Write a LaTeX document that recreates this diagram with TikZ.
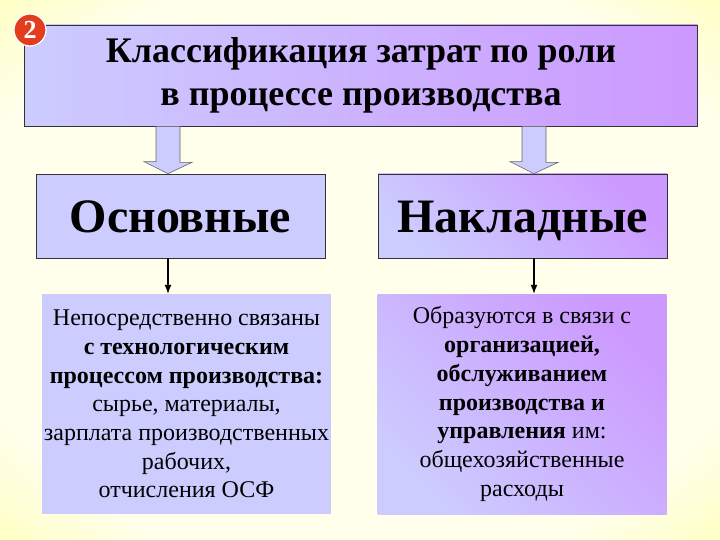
\documentclass[tikz,border=0pt]{standalone}
\usepackage{fontspec}
\setmainfont{Liberation Serif}
\usetikzlibrary{positioning,calc,arrows.meta}

\definecolor{lav}{RGB}{204,204,255}
\definecolor{lilac}{RGB}{204,153,255}
\definecolor{bgin}{RGB}{255,255,236}
\definecolor{bgout}{RGB}{255,255,128}
\definecolor{badgered}{RGB}{226,62,30}
\pgfdeclareradialshading{bgglow}{\pgfpoint{0bp}{0bp}}{color(0bp)=(bgin); color(28bp)=(bgin); color(48bp)=(bgout); color(75bp)=(bgout)}

\begin{document}
\begin{tikzpicture}[x=1pt,y=-1pt,
    box/.style={draw=black!80, line width=0.8pt, inner sep=0pt, align=center},
    head/.style={font=\bfseries\fontsize{36}{43}\selectfont},
    big/.style={font=\bfseries\fontsize{48}{50}\selectfont, text height=33pt, text depth=0pt},
    desc/.style={inner sep=0pt, align=center, minimum width=289pt, minimum height=220pt, font=\fontsize{24}{28.7}\selectfont},
    diag/.style={top color=lilac, bottom color=lav, shading angle=-45},
    blockarrow/.style={draw=black!60, line width=0.6pt, fill=lav},
    link/.style={-{Latex[length=9pt,width=7pt]}, line width=1.2pt}]
    % Background
    \useasboundingbox (0,0) rectangle (720,540);
    \path[shading=bgglow] (0,0) rectangle (720,540);

    % Title
    \node[box, head, minimum width=673pt, minimum height=101pt, left color=lav, right color=lilac] (title) at (361,75.5) {Классификация затрат по роли\\в процессе производства};
    \node[circle, fill=badgered, draw=white, line width=1.2pt, minimum size=32pt, inner sep=0pt, text=white, font=\bfseries\fontsize{26}{26}\selectfont] (badge) at (30,30) {2};

    % Two kinds
    \node[box, big, minimum width=289pt, minimum height=84pt, fill=lav] (basic) at (180.5,216) {Основные};
    \node[box, big, minimum width=289pt, minimum height=84pt, diag] (overhead) at (522.5,216) {Накладные};

    % Descriptions
    \node[desc, fill=lav] (basicdesc) at (186.5,404) {Непосредственно связаны\\
        \textbf{с технологическим}\\
        \textbf{процессом производства:}\\
        сырье, материалы,\\
        зарплата производственных\\
        рабочих,\\
        отчисления ОСФ};
    \node[desc, diag] (overheaddesc) at (522,404) {Образуются в связи с\\
        \textbf{организацией,}\\
        \textbf{обслуживанием}\\
        \textbf{производства и}\\
        \textbf{управления} им:\\
        общехозяйственные\\
        расходы};

    % Arrows
    \coordinate (lx) at (168,0);
    \coordinate (rx) at (534,0);
    \foreach \c/\t in {lx/basic, rx/overhead} {
        \draw[blockarrow] ($(title.south -| \c)+(-12,0)$) -- ++(24,0) -- ++(0,36) -- ++(12,0) -- (\t.north -| \c) -- ++(-24,-12) -- ++(12,0) -- cycle;
    }
    \draw[link] (basic.south -| lx) -- (basicdesc.north -| lx);
    \draw[link] (overhead.south -| rx) -- (overheaddesc.north -| rx);
\end{tikzpicture}
\end{document}
